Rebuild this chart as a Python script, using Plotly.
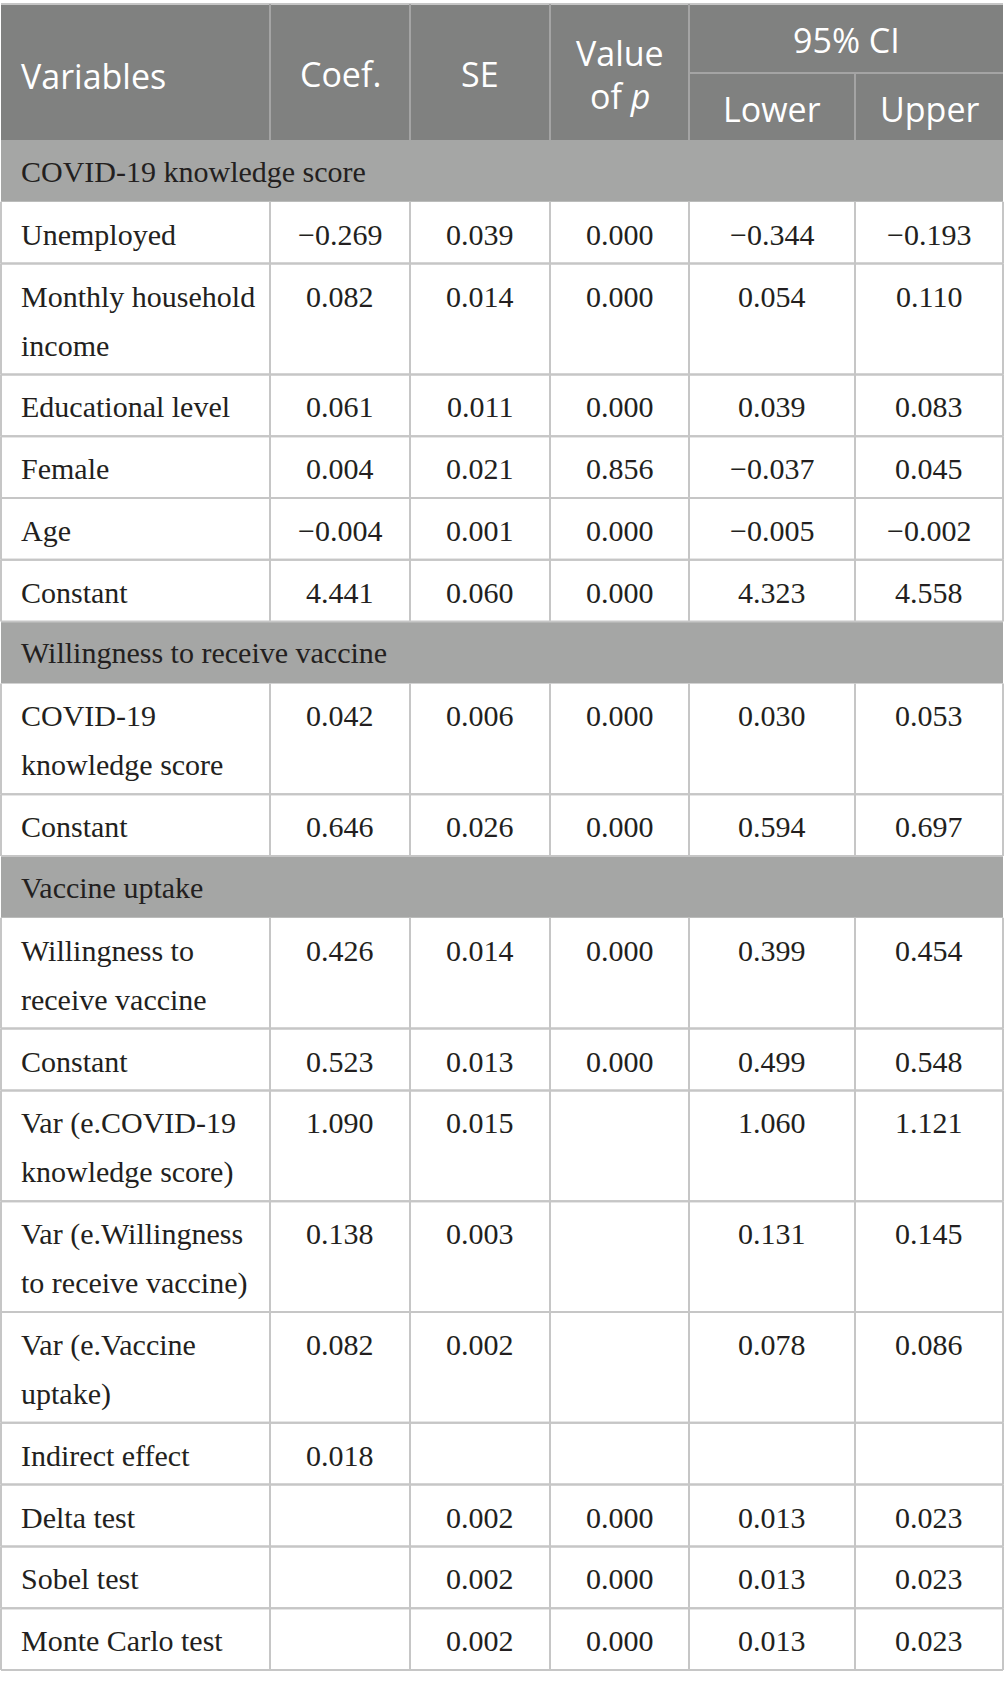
import plotly.graph_objects as go

# ---------------- data ----------------
section_titles = ["COVID-19 knowledge score", "Willingness to receive vaccine", "Vaccine uptake"]
variables = [
    "Unemployed",
    "Monthly household\nincome",
    "Educational level",
    "Female",
    "Age",
    "Constant",
    "COVID-19\nknowledge score",
    "Constant",
    "Willingness to\nreceive vaccine",
    "Constant",
    "Var (e.COVID-19\nknowledge score)",
    "Var (e.Willingness\nto receive vaccine)",
    "Var (e.Vaccine\nuptake)",
    "Indirect effect",
    "Delta test",
    "Sobel test",
    "Monte Carlo test",
]
row_section = [0, 0, 0, 0, 0, 0, 1, 1, 2, 2, 2, 2, 2, 2, 2, 2, 2]
coef = [-0.269, 0.082, 0.061, 0.004, -0.004, 4.441, 0.042, 0.646, 0.426, 0.523,
        1.090, 0.138, 0.082, 0.018, None, None, None]
se = [0.039, 0.014, 0.011, 0.021, 0.001, 0.060, 0.006, 0.026, 0.014, 0.013,
      0.015, 0.003, 0.002, None, 0.002, 0.002, 0.002]
p_value = [0.000, 0.000, 0.000, 0.856, 0.000, 0.000, 0.000, 0.000, 0.000, 0.000,
           None, None, None, None, 0.000, 0.000, 0.000]
ci_lower = [-0.344, 0.054, 0.039, -0.037, -0.005, 4.323, 0.030, 0.594, 0.399, 0.499,
            1.060, 0.131, 0.078, None, 0.013, 0.013, 0.013]
ci_upper = [-0.193, 0.110, 0.083, 0.045, -0.002, 4.558, 0.053, 0.697, 0.454, 0.548,
            1.121, 0.145, 0.086, None, 0.023, 0.023, 0.023]
header_labels = ["Variables", "Coef.", "SE", "Value\nof <i>p</i>", "Lower", "Upper"]
ci_label = "95% CI"

# ---------------- layout / style ----------------
W, H = 1005, 1687
col_edges = [1, 270, 410, 550, 689, 855, 1003]
table_top = 4
header_bottom = 140
header_split = 73
row_h = 61.8
line_h = 49
text_off = 32.5
label_x = 19

HEADER_FILL = "#808180"
HEADER_SEP = "#a4a4a4"
GROUP_FILL = "#a5a6a5"
GRID = "#c6c6c6"
TEXT = "#231f20"
SERIF = "Liberation Serif"
SANS = "Open Sans"
body_size = 30
head_size = 34


def fmt(v):
    if v is None:
        return ""
    return f"{v:.3f}".replace("-", "\u2212")


shapes = []
annotations = []


def hline(x0, x1, y, color, w=2):
    shapes.append(dict(type="line", xref="x", yref="y", x0=x0, x1=x1, y0=y, y1=y,
                       line=dict(color=color, width=w)))


def vline(x, y0, y1, color, w=2):
    shapes.append(dict(type="line", xref="x", yref="y", x0=x, x1=x, y0=y0, y1=y1,
                       line=dict(color=color, width=w)))


def text(x, y, s, font, size, color, xanchor):
    annotations.append(dict(x=x, y=y, xref="x", yref="y", text=s, showarrow=False,
                            xanchor=xanchor, yanchor="middle",
                            font=dict(family=font, size=size, color=color)))


# header
shapes.append(dict(type="rect", xref="x", yref="y", x0=col_edges[0], x1=col_edges[-1],
                   y0=table_top, y1=header_bottom, fillcolor=HEADER_FILL, line=dict(width=0),
                   layer="below"))
hline(col_edges[0], col_edges[-1], table_top, GRID)
for xe in col_edges[1:5]:
    vline(xe, table_top, header_bottom, HEADER_SEP)
vline(col_edges[5], header_split, header_bottom, HEADER_SEP)
hline(col_edges[4], col_edges[-1], header_split, HEADER_SEP)

head_mid = (table_top + header_bottom) / 2 + 3.5
for j, lab in enumerate(header_labels):
    lines = lab.split("\n")
    if j == 0:
        text(label_x, head_mid, lines[0], SANS, head_size, "white", "left")
    elif j in (4, 5):
        cx = (col_edges[j] + col_edges[j + 1]) / 2
        text(cx, (header_split + header_bottom) / 2 + 2, lines[0], SANS, head_size, "white", "center")
    else:
        cx = (col_edges[j] + col_edges[j + 1]) / 2
        n = len(lines)
        for k, ln in enumerate(lines):
            y = head_mid - 1.5 + (k - (n - 1) / 2) * 43
            text(cx, y, ln, SANS, head_size, "white", "center")
text((col_edges[4] + col_edges[6]) / 2, (table_top + header_split) / 2 + 1, ci_label,
     SANS, head_size, "white", "center")

# body
y = header_bottom
cur_section = None
columns = [coef, se, p_value, ci_lower, ci_upper]
for i, lab in enumerate(variables):
    if row_section[i] != cur_section:
        cur_section = row_section[i]
        shapes.append(dict(type="rect", xref="x", yref="y", x0=col_edges[0], x1=col_edges[-1],
                           y0=y, y1=y + row_h, fillcolor=GROUP_FILL, line=dict(width=0),
                           layer="below"))
        text(label_x, y + text_off - 1.5, section_titles[cur_section], SERIF, body_size, TEXT, "left")
        y += row_h
    lines = lab.split("\n")
    h = row_h + line_h * (len(lines) - 1)
    for k, ln in enumerate(lines):
        text(label_x, y + text_off + k * line_h, ln, SERIF, body_size, TEXT, "left")
    for j, col in enumerate(columns):
        s = fmt(col[i])
        if s:
            cx = (col_edges[j + 1] + col_edges[j + 2]) / 2
            text(cx, y + text_off, s, SERIF, body_size, TEXT, "center")
    for xe in col_edges:
        vline(xe, y, y + h, GRID)
    hline(col_edges[0], col_edges[-1], y + h, GRID)
    if i > 0 and row_section[i] == row_section[i - 1]:
        hline(col_edges[0], col_edges[-1], y, GRID)
    y += h

fig = go.Figure()
fig.update_layout(
    width=W, height=H,
    margin=dict(l=0, r=0, t=0, b=0),
    paper_bgcolor="white", plot_bgcolor="white",
    xaxis=dict(range=[0, W], visible=False, fixedrange=True),
    yaxis=dict(range=[H, 0], visible=False, fixedrange=True),
    shapes=shapes, annotations=annotations, showlegend=False,
)
fig.write_html(
    "out.html",
    config={"displayModeBar": False},
    post_script="document.body.style.margin='0px';document.body.style.overflow='hidden';",
)
